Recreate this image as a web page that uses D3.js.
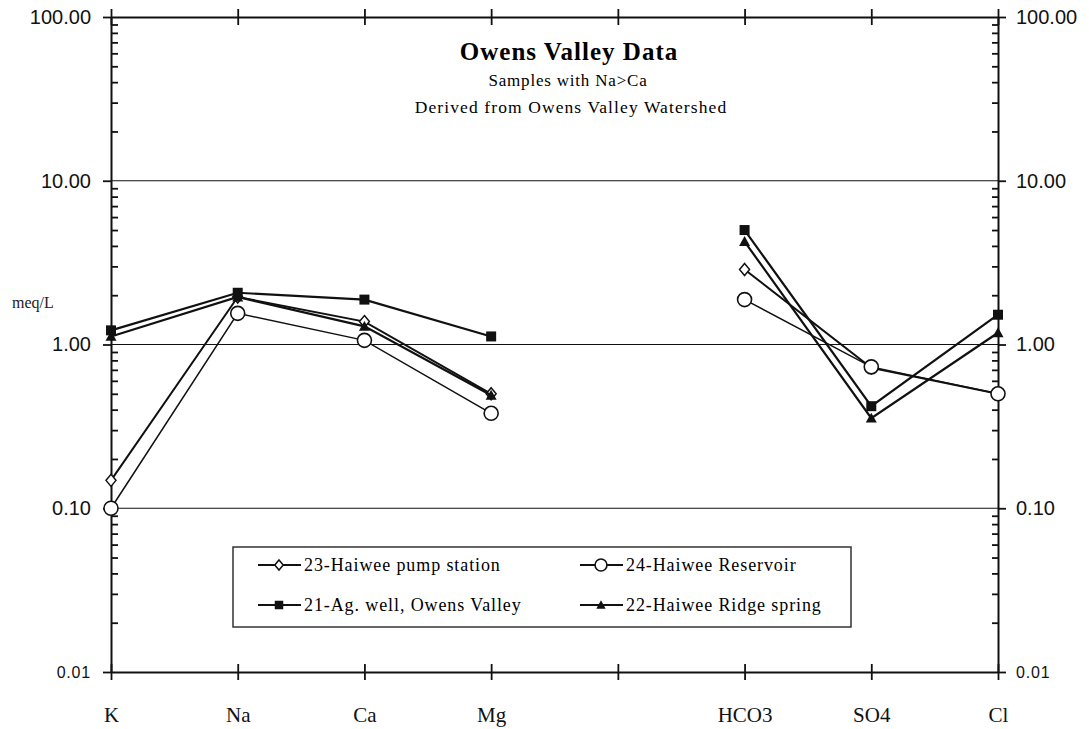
<!DOCTYPE html>
<html>
<head>
<meta charset="utf-8">
<script src="https://cdn.jsdelivr.net/npm/d3@7"></script>
<style>
  body { margin: 0; background: #fff; }
  svg { display: block; }
  .ylab text { font-family: "Liberation Sans", Arial, sans-serif; font-size: 20px; fill: #111; }
  .xlab text { font-family: "Liberation Serif", "Times New Roman", serif; font-size: 21px; fill: #111; }
  .domain { stroke: #111; stroke-width: 2; }
  .tick line { stroke: #111; stroke-width: 1.8; }
</style>
</head>
<body>
<div id="chart"></div>
<script>
// categories (blank slot between cations and anions)
const ions = ["K", "Na", "Ca", "Mg", "", "HCO3", "SO4", "Cl"];

// meq/L values
const haiweePump = [0.148, 1.95, 1.38, 0.50, null, 2.87, 0.72, 0.50];
const agWell = [1.22, 2.07, 1.88, 1.12, null, 5.0, 0.42, 1.52];
const ridgeSpring = [1.12, 1.95, 1.29, 0.49, null, 4.25, 0.355, 1.18];
const reservoir = [0.10, 1.55, 1.06, 0.38, null, 1.88, 0.73, 0.50];

const majorTicks = [0.01, 0.1, 1, 10, 100];
const gridTicks = [0.1, 1, 10];

const series = [
  { name: "23-Haiwee pump station", values: haiweePump, symbol: "diamond", width: 2 },
  { name: "21-Ag. well, Owens Valley", values: agWell, symbol: "square", width: 2.2 },
  { name: "22-Haiwee Ridge spring", values: ridgeSpring, symbol: "triangle", width: 2.2 },
  { name: "24-Haiwee Reservoir", values: reservoir, symbol: "circle", width: 1.5 }
];

const W = 1089, H = 729;
const pLeft = 111, pRight = 998, pTop = 17, pBottom = 672;

const svg = d3.select("#chart")
  .append("svg")
  .attr("width", W)
  .attr("height", H);

const x = d3.scalePoint()
  .domain(ions)
  .range([pLeft, pRight]);

const y = d3.scaleLog()
  .domain([0.01, 100])
  .range([pBottom, pTop]);

// minor ticks 2..9 in each decade
const minorTicks = [];
[0.01, 0.1, 1, 10].forEach(d => {
  for (let k = 2; k <= 9; k++) minorTicks.push(+(d * k).toPrecision(3));
});

// grid lines
svg.append("g")
  .selectAll("line")
  .data(gridTicks)
  .join("line")
  .attr("x1", pLeft)
  .attr("x2", pRight)
  .attr("y1", d => y(d))
  .attr("y2", d => y(d))
  .attr("stroke", "#111")
  .attr("stroke-width", 1.2);

// left axis
svg.append("g")
  .attr("class", "ylab")
  .attr("transform", `translate(${pLeft},0)`)
  .call(d3.axisLeft(y).tickValues(majorTicks).tickFormat(d3.format(".2f")).tickSize(8).tickPadding(12).tickSizeOuter(0));

svg.append("g")
  .attr("transform", `translate(${pLeft},0)`)
  .call(d3.axisRight(y).tickValues(minorTicks).tickFormat("").tickSize(7).tickSizeOuter(0))
  .select(".domain").remove();

// right axis
svg.append("g")
  .attr("class", "ylab")
  .attr("transform", `translate(${pRight},0)`)
  .call(d3.axisRight(y).tickValues(majorTicks).tickFormat(d3.format(".2f")).tickSize(8).tickPadding(10).tickSizeOuter(0));

svg.append("g")
  .attr("transform", `translate(${pRight},0)`)
  .call(d3.axisLeft(y).tickValues(minorTicks).tickFormat("").tickSize(6).tickSizeOuter(0))
  .select(".domain").remove();

// smaller bottom labels
svg.selectAll(".ylab .tick")
  .filter(d => d === 0.01)
  .select("text")
  .style("font-size", "16px")
  .style("letter-spacing", "0.8px");

// bottom axis
svg.append("g")
  .attr("class", "xlab")
  .attr("transform", `translate(0,${pBottom})`)
  .call(d3.axisBottom(x).tickSize(8).tickPadding(27).tickSizeOuter(0));

svg.append("g")
  .attr("transform", `translate(0,${pBottom})`)
  .call(d3.axisTop(x).tickSize(8).tickFormat("").tickSizeOuter(0))
  .select(".domain").remove();

// top axis
svg.append("g")
  .attr("transform", `translate(0,${pTop})`)
  .call(d3.axisTop(x).tickSize(8).tickFormat("").tickSizeOuter(0));

svg.append("g")
  .attr("transform", `translate(0,${pTop})`)
  .call(d3.axisBottom(x).tickSize(8).tickFormat("").tickSizeOuter(0))
  .select(".domain").remove();

// y axis label
svg.append("text")
  .attr("x", 12)
  .attr("y", 308)
  .style("font-family", "Liberation Serif, serif")
  .style("font-size", "16px")
  .style("fill", "#222")
  .text("meq/L");

// titles
svg.append("text")
  .attr("x", 569)
  .attr("y", 60)
  .attr("text-anchor", "middle")
  .style("font-family", "Liberation Serif, serif")
  .style("font-weight", "bold")
  .style("font-size", "25px")
  .style("letter-spacing", "1px")
  .text("Owens Valley Data");

svg.append("text")
  .attr("x", 568)
  .attr("y", 86)
  .attr("text-anchor", "middle")
  .style("font-family", "Liberation Serif, serif")
  .style("font-size", "17px")
  .style("letter-spacing", "0.8px")
  .text("Samples with Na>Ca");

svg.append("text")
  .attr("x", 571)
  .attr("y", 113)
  .attr("text-anchor", "middle")
  .style("font-family", "Liberation Serif, serif")
  .style("font-size", "17.5px")
  .style("letter-spacing", "1.1px")
  .text("Derived from Owens Valley Watershed");

// marker drawing
function drawMarker(g, symbol, cx, cy, scale) {
  const s = scale || 1;
  if (symbol === "circle") {
    g.append("circle").attr("cx", cx).attr("cy", cy).attr("r", 7 * s)
      .attr("fill", "#fff").attr("stroke", "#111").attr("stroke-width", 1.6);
  } else if (symbol === "diamond") {
    const a = 5 * s, b = 6 * s;
    g.append("path")
      .attr("d", `M${cx},${cy - b}L${cx + a},${cy}L${cx},${cy + b}L${cx - a},${cy}Z`)
      .attr("fill", "#fff").attr("stroke", "#111").attr("stroke-width", 1.5);
  } else if (symbol === "square") {
    const a = 5 * s;
    g.append("rect").attr("x", cx - a).attr("y", cy - a).attr("width", 2 * a).attr("height", 2 * a)
      .attr("fill", "#111");
  } else if (symbol === "triangle") {
    const a = 5.5 * s;
    g.append("path")
      .attr("d", `M${cx},${cy - a}L${cx + a},${cy + a * 0.8}L${cx - a},${cy + a * 0.8}Z`)
      .attr("fill", "#111");
  }
}

const line = d3.line()
  .defined(d => d.v != null)
  .x(d => x(d.ion))
  .y(d => y(d.v));

const plot = svg.append("g");

series.forEach(s => {
  const pts = ions.map((ion, i) => ({ ion: ion, v: s.values[i] }));
  const g = plot.append("g");
  g.append("path")
    .attr("d", line(pts))
    .attr("fill", "none")
    .attr("stroke", "#111")
    .attr("stroke-width", s.width);
  pts.filter(d => d.v != null).forEach(d => drawMarker(g, s.symbol, x(d.ion), y(d.v), 1));
});

// legend
const legend = svg.append("g");
legend.append("rect")
  .attr("x", 233)
  .attr("y", 547)
  .attr("width", 618)
  .attr("height", 80)
  .attr("fill", "#fff")
  .attr("stroke", "#333")
  .attr("stroke-width", 1.5);

const legendPos = [
  { x: 258, y: 565 },
  { x: 258, y: 605 },
  { x: 580, y: 605 },
  { x: 580, y: 565 }
];

series.forEach((s, i) => {
  const p = legendPos[i];
  const g = legend.append("g");
  g.append("line")
    .attr("x1", p.x).attr("x2", p.x + 43)
    .attr("y1", p.y).attr("y2", p.y)
    .attr("stroke", "#111").attr("stroke-width", 2);
  drawMarker(g, s.symbol, p.x + 21, p.y, 0.85);
  g.append("text")
    .attr("x", p.x + 46)
    .attr("y", p.y + 6)
    .style("font-family", "Liberation Serif, serif")
    .style("font-size", "18px")
    .style("letter-spacing", "0.9px")
    .text(s.name);
});
</script>
</body>
</html>
